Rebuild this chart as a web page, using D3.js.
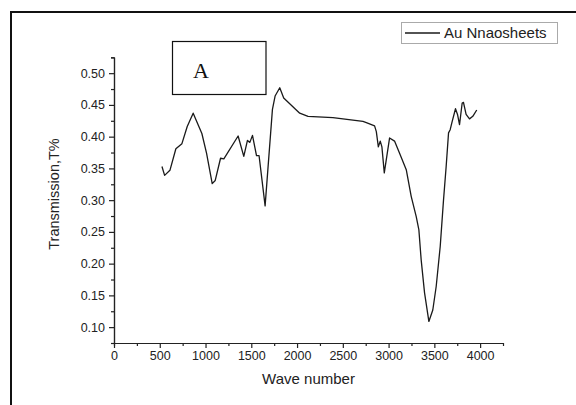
<!DOCTYPE html>
<html>
<head>
<meta charset="utf-8">
<script src="https://cdn.jsdelivr.net/npm/d3@7"></script>
<style>
  body { margin: 0; background: #fff; }
  svg { display: block; }
  .axis text { font-family: "Liberation Sans", Arial, sans-serif; font-size: 12.5px; fill: #222; }
  .axis path, .axis line { stroke: #222; stroke-width: 1.2; }
</style>
</head>
<body>
<script>
// wave number / transmission
var waveNumber = [524, 553, 611, 676, 742, 800, 865, 960, 1011, 1073, 1106, 1164, 1200, 1356, 1418, 1458, 1484, 1513, 1557, 1585, 1651, 1731, 1760, 1811, 1854, 2029, 2120, 2392, 2720, 2757, 2847, 2866, 2888, 2909, 2927, 2953, 3011, 3065, 3120, 3193, 3247, 3302, 3331, 3356, 3393, 3440, 3483, 3520, 3564, 3600, 3629, 3655, 3673, 3695, 3731, 3753, 3775, 3804, 3818, 3847, 3884, 3920, 3963];
var transmission = [0.353, 0.339, 0.347, 0.381, 0.389, 0.416, 0.437, 0.405, 0.374, 0.326, 0.331, 0.366, 0.365, 0.401, 0.369, 0.394, 0.391, 0.402, 0.370, 0.370, 0.291, 0.443, 0.464, 0.477, 0.461, 0.437, 0.432, 0.430, 0.424, 0.422, 0.417, 0.408, 0.384, 0.393, 0.384, 0.343, 0.398, 0.393, 0.374, 0.348, 0.306, 0.274, 0.253, 0.206, 0.154, 0.109, 0.127, 0.164, 0.227, 0.300, 0.353, 0.406, 0.411, 0.424, 0.444, 0.435, 0.419, 0.453, 0.454, 0.435, 0.428, 0.432, 0.442];
var xTicks = [0, 500, 1000, 1500, 2000, 2500, 3000, 3500, 4000];
var yTicks = [0.10, 0.15, 0.20, 0.25, 0.30, 0.35, 0.40, 0.45, 0.50];
var seriesName = "Au Nnaosheets";
var panelLabel = "A";

var width = 576, height = 405;
var svg = d3.select("body").append("svg")
  .attr("width", width)
  .attr("height", height);

// outer frame (only left and top visible)
svg.append("path")
  .attr("d", "M11,405 L11,12 L576,12")
  .attr("fill", "none")
  .attr("stroke", "#111")
  .attr("stroke-width", 2);

var x = d3.scaleLinear().domain([0, 4250]).range([114, 503]);
var y = d3.scaleLinear().domain([0.075, 0.525]).range([343, 57.3]);

// minor ticks
var xMinor = d3.range(250, 4250, 500);
var yMinor = d3.range(0.075, 0.526, 0.05);

svg.append("g").attr("class", "axis")
  .attr("transform", "translate(0,343)")
  .call(d3.axisBottom(x).tickValues(xMinor).tickSize(3).tickFormat(""));
svg.append("g").attr("class", "axis")
  .attr("transform", "translate(114,0)")
  .call(d3.axisLeft(y).tickValues(yMinor).tickSize(3).tickFormat(""));

var xAxis = svg.append("g").attr("class", "axis")
  .attr("transform", "translate(0,343)")
  .call(d3.axisBottom(x).tickValues(xTicks).tickSize(5).tickSizeOuter(0).tickPadding(3)
    .tickFormat(d3.format("d")));
var yAxis = svg.append("g").attr("class", "axis")
  .attr("transform", "translate(114,0)")
  .call(d3.axisLeft(y).tickValues(yTicks).tickSize(5).tickSizeOuter(0).tickPadding(4)
    .tickFormat(d3.format(".2f")));

// axis titles
svg.append("text")
  .attr("x", 308.5).attr("y", 384)
  .attr("text-anchor", "middle")
  .style("font-family", "Liberation Sans, Arial, sans-serif")
  .style("font-size", "15px")
  .attr("fill", "#222")
  .text("Wave number");

svg.append("text")
  .attr("transform", "translate(59,194) rotate(-90)")
  .attr("text-anchor", "middle")
  .style("font-family", "Liberation Sans, Arial, sans-serif")
  .style("font-size", "14.5px")
  .attr("fill", "#222")
  .text("Transmission,T%");

// data line
var points = waveNumber.map(function(d, i) { return [d, transmission[i]]; });
var line = d3.line()
  .x(function(d) { return x(d[0]); })
  .y(function(d) { return y(d[1]); });

svg.append("path")
  .datum(points)
  .attr("d", line)
  .attr("fill", "none")
  .attr("stroke", "#1a1a1a")
  .attr("stroke-width", 1.3)
  .attr("stroke-linejoin", "round");

// panel label box
svg.append("rect")
  .attr("x", 172.5).attr("y", 41.5)
  .attr("width", 93.5).attr("height", 53)
  .attr("fill", "#fff")
  .attr("stroke", "#111")
  .attr("stroke-width", 1.2);
svg.append("text")
  .attr("x", 193).attr("y", 77.5)
  .style("font-family", "Liberation Serif, Times New Roman, serif")
  .style("font-size", "22px")
  .attr("fill", "#111")
  .text(panelLabel);

// legend
svg.append("rect")
  .attr("x", 401.5).attr("y", 22.5)
  .attr("width", 156).attr("height", 21)
  .attr("fill", "#fff")
  .attr("stroke", "#aaa")
  .attr("stroke-width", 1);
svg.append("line")
  .attr("x1", 405).attr("x2", 440)
  .attr("y1", 33).attr("y2", 33)
  .attr("stroke", "#1a1a1a")
  .attr("stroke-width", 1.3);
svg.append("text")
  .attr("x", 444).attr("y", 38)
  .style("font-family", "Liberation Sans, Arial, sans-serif")
  .style("font-size", "15px")
  .attr("fill", "#222")
  .text(seriesName);
</script>
</body>
</html>
